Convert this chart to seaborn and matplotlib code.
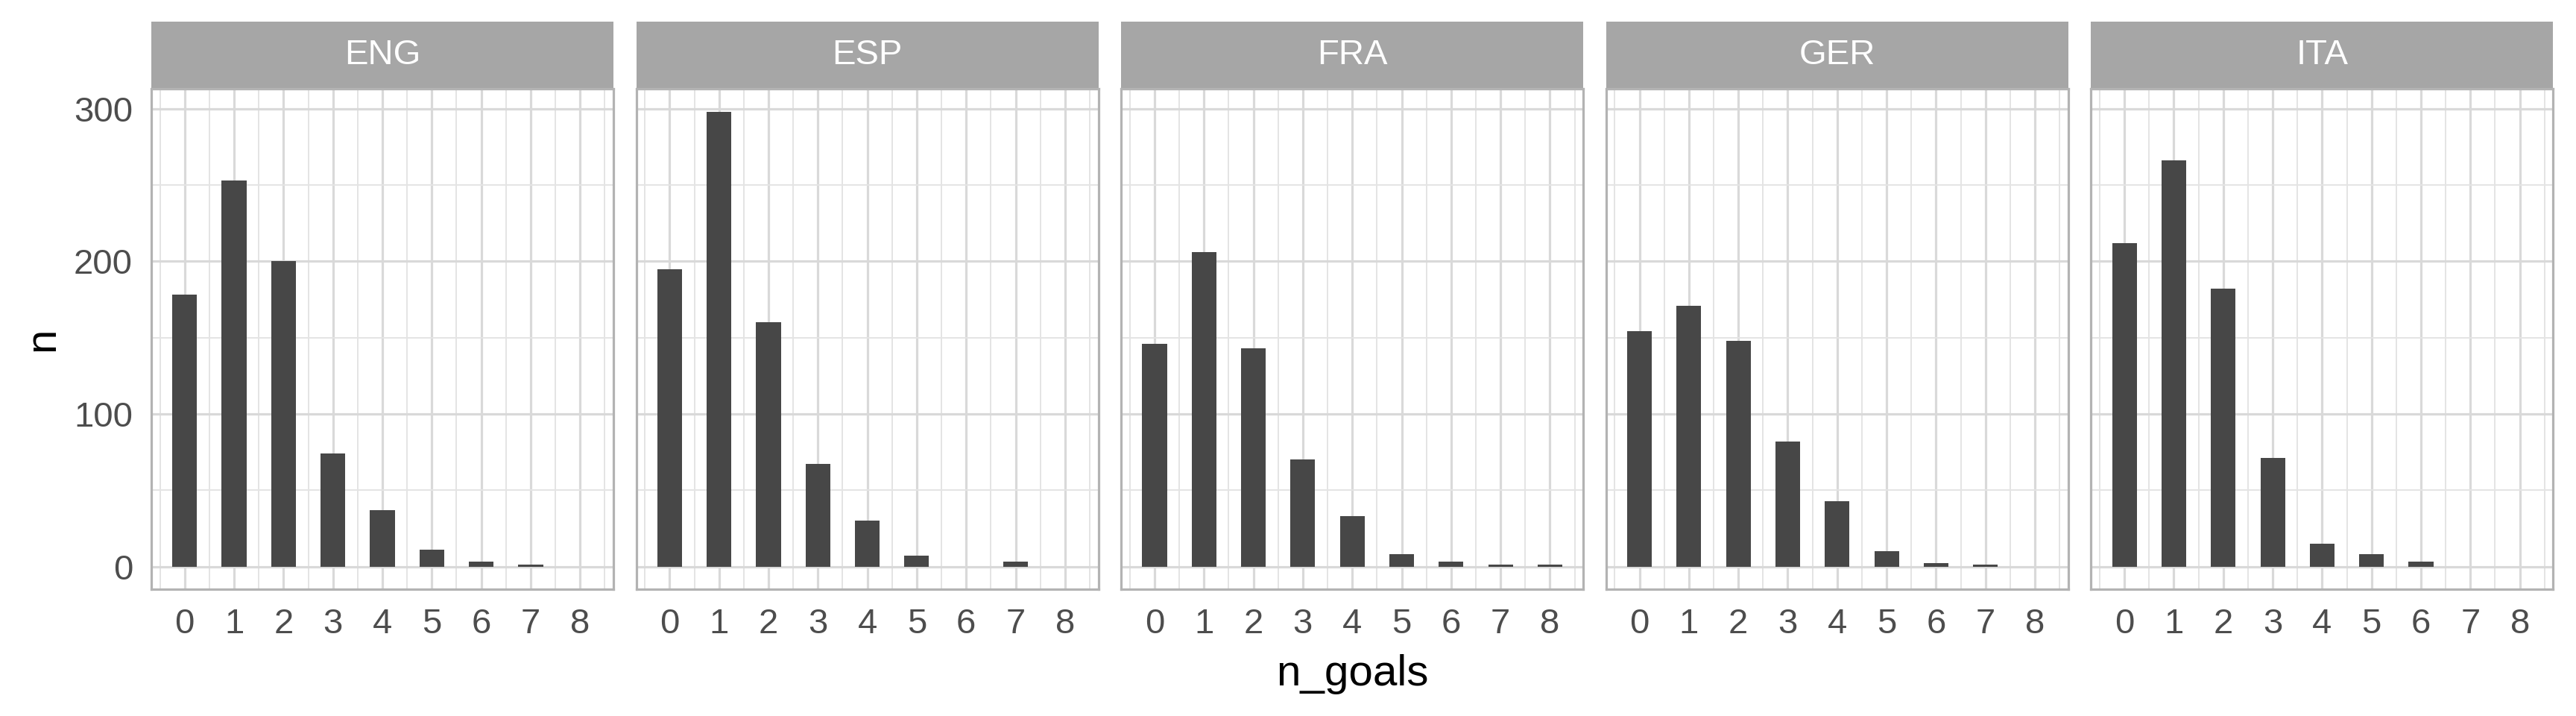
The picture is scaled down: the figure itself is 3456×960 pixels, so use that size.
import pandas as pd
import seaborn as sns
import matplotlib.pyplot as plt
from matplotlib.patches import Rectangle
from matplotlib.ticker import FixedLocator

# goal counts per match, one list per league
n_goals = [0, 1, 2, 3, 4, 5, 6, 7, 8]
leagues = ['ENG', 'ESP', 'FRA', 'GER', 'ITA']
eng = [178, 253, 200, 74, 37, 11, 3, 1, 0]
esp = [195, 298, 160, 67, 30, 7, 0, 3, 0]
fra = [146, 206, 143, 70, 33, 8, 3, 1, 1]
ger = [154, 171, 148, 82, 43, 10, 2, 1, 0]
ita = [212, 266, 182, 71, 15, 8, 3, 0, 0]

df = pd.concat([
    pd.DataFrame({'league': lg, 'n_goals': n_goals, 'n': vals})
    for lg, vals in zip(leagues, [eng, esp, fra, ger, ita])
])

sns.set_style('white')
plt.rcParams['font.family'] = ['Liberation Sans', 'DejaVu Sans']

g = sns.FacetGrid(df, col='league', col_order=leagues, sharey=True, height=4, aspect=1)
g.map_dataframe(sns.barplot, x='n_goals', y='n', native_scale=True, width=0.5,
                color='#474747', saturation=1, errorbar=None, linewidth=0)

fig = g.figure
fig.set_size_inches(34.56, 9.6)
fig.set_facecolor('white')

W, H = 3456, 960
left0, step, pw = 203, 650.6, 620
ptop, pbot = 119.4, 790
strip_h = (ptop - 29.3) / (pbot - ptop)

for i, (ax, lg) in enumerate(zip(g.axes.flat, leagues)):
    ax.set_position([(left0 + i * step) / W, (H - pbot) / H, pw / W, (pbot - ptop) / H])
    ax.set_facecolor('white')
    ax.set_xlim(-0.675, 8.675)
    ax.set_ylim(-14.9, 312.9)
    ax.set_xticks(n_goals)
    ax.set_xticklabels([str(v) for v in n_goals])
    ax.set_yticks([0, 100, 200, 300])
    ax.xaxis.set_minor_locator(FixedLocator([v - 0.5 for v in n_goals] + [8.5]))
    ax.yaxis.set_minor_locator(FixedLocator([50, 150, 250]))
    ax.grid(which='major', color='#D9D9D9', linewidth=2.3)
    ax.grid(which='minor', color='#E4E4E4', linewidth=1.4)
    ax.set_axisbelow(True)
    for s in ax.spines.values():
        s.set_visible(True)
        s.set_color('#B3B3B3')
        s.set_linewidth(2.3)
    ax.tick_params(which='major', length=10, width=2.3, color='#B3B3B3',
                   labelsize=34, labelcolor='#4D4D4D')
    ax.tick_params(axis='x', pad=8)
    ax.tick_params(axis='y', pad=8)
    ax.tick_params(which='minor', length=0)
    if i > 0:
        ax.tick_params(axis='y', left=False, labelleft=False)
    ax.set_xlabel('')
    ax.set_ylabel('')
    ax.set_title('')
    ax.add_patch(Rectangle((0, 1), 1, strip_h, transform=ax.transAxes,
                           facecolor='#A6A6A6', edgecolor='none', clip_on=False))
    ax.text(0.5, 1 + strip_h / 2, lg, transform=ax.transAxes, ha='center', va='center',
            fontsize=34, color='white')

fig.text((left0 + 4 * step + pw + left0) / 2 / W, 1 - 904 / H, 'n_goals',
         ha='center', va='center', fontsize=42, color='black')
fig.text(57 / W, 1 - ((ptop + pbot) / 2) / H, 'n', rotation=90,
         ha='center', va='center', fontsize=42, color='black')

fig.savefig('out.png', dpi=100, facecolor='white')
